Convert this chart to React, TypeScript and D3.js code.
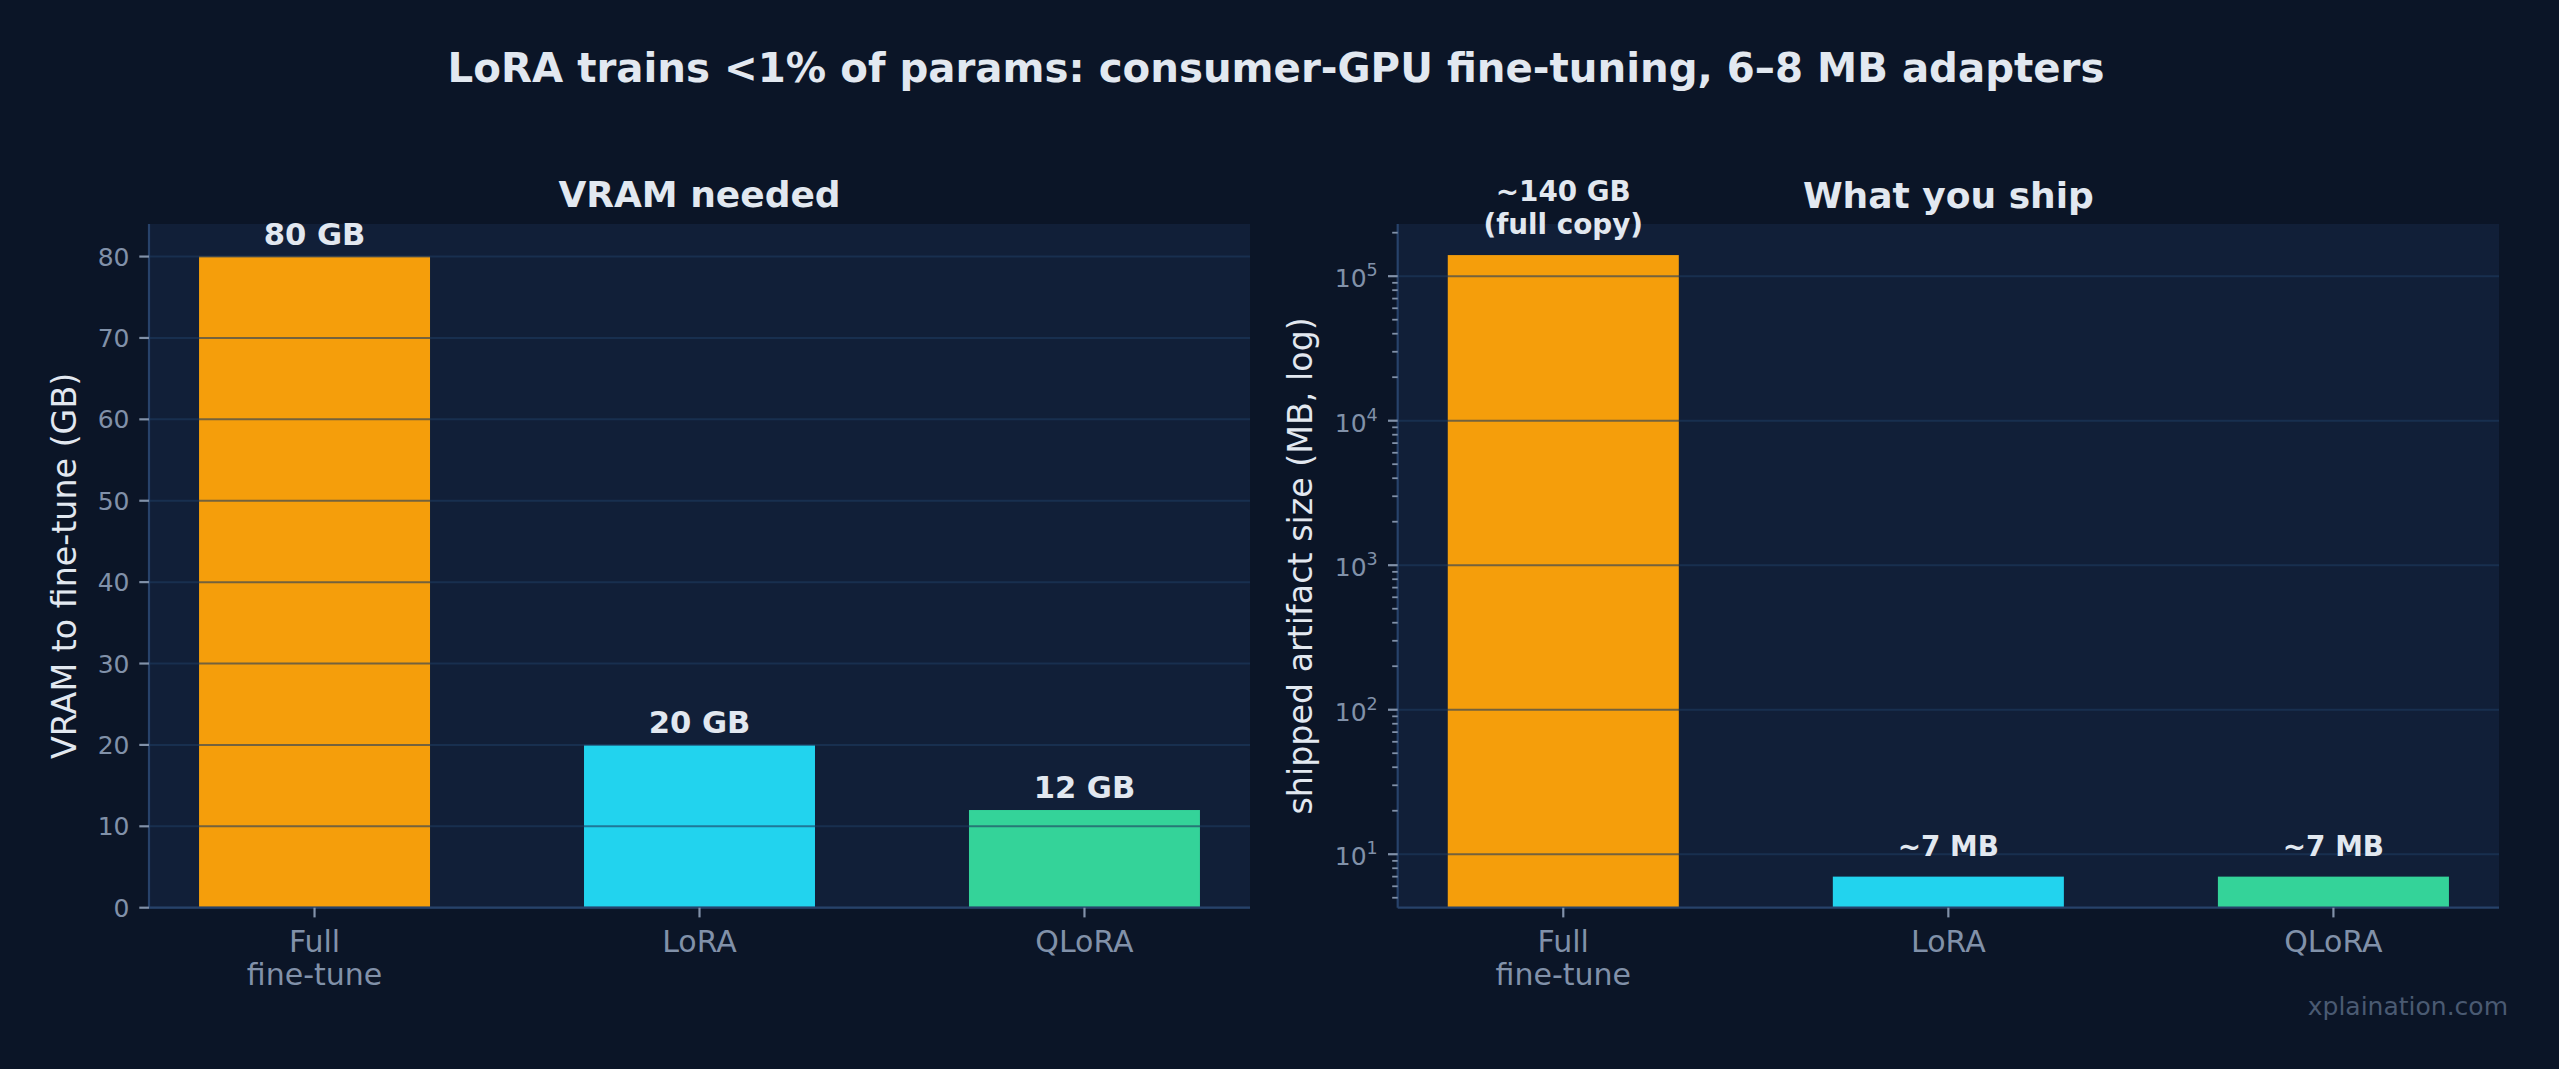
import React from 'react'
import * as d3 from 'd3'

// chart data
const categories = ['Full\nfine-tune', 'LoRA', 'QLoRA']
const vramGB = [80, 20, 12]
const vramLabels = ['80 GB', '20 GB', '12 GB']
const shippedMB = [140000, 7, 7]
const shippedLabels = ['~140 GB\n(full copy)', '~7 MB', '~7 MB']
const barColors = ['#f59e0b', '#22d3ee', '#34d399']
const vramTicks = [0, 10, 20, 30, 40, 50, 60, 70, 80]
const logTicks = [1, 2, 3, 4, 5]

const W = 2559
const H = 1069
const BG = '#0b1527'
const AX_BG = '#111f38'
const SPINE = '#27426a'
const GRID = '#1e3a5f'
const TICK = '#8191a9'
const TEXT = '#e2e8f0'
const FONT = '"DejaVu Sans", sans-serif'

const top = 224
const bottom = 907.7

const left1 = { x0: 149, x1: 1250 }
const right1 = { x0: 1397.7, x1: 2499 }

const band = (p: { x0: number; x1: number }) =>
  d3.scaleBand<string>().domain(categories).range([p.x0, p.x1]).paddingInner(0.4).paddingOuter(0.13)

const XLabels = ({ x }: { x: d3.ScaleBand<string> }) => (
  <g>
    {categories.map(c => {
      const cx = x(c)! + x.bandwidth() / 2
      return (
        <g key={c}>
          <line x1={cx} x2={cx} y1={bottom} y2={bottom + 9.7} stroke={TICK} strokeWidth={2.2} />
          <text x={cx} y={951.7} textAnchor="middle" fontSize={30} fill={TICK}>
            {c.split('\n').map((l, i) => (
              <tspan key={i} x={cx} dy={i === 0 ? 0 : 33}>{l}</tspan>
            ))}
          </text>
        </g>
      )
    })}
  </g>
)

const VramPanel = () => {
  const x = band(left1)
  const y = d3.scaleLinear().domain([0, d3.max(vramGB)! * 1.05]).range([bottom, top])
  return (
    <g>
      <rect x={left1.x0} y={top} width={left1.x1 - left1.x0} height={bottom - top} fill={AX_BG} />
      {vramGB.map((v, i) => (
        <rect key={i} x={x(categories[i])} y={y(v)} width={x.bandwidth()} height={y(0) - y(v)} fill={barColors[i]} />
      ))}
      {vramTicks.map(t => (
        <line key={t} x1={left1.x0} x2={left1.x1} y1={y(t)} y2={y(t)} stroke={GRID} strokeOpacity={0.6} strokeWidth={2} />
      ))}
      <line x1={left1.x0} x2={left1.x0} y1={top} y2={bottom} stroke={SPINE} strokeWidth={2.2} />
      <line x1={left1.x0} x2={left1.x1} y1={bottom} y2={bottom} stroke={SPINE} strokeWidth={2.2} />
      {vramTicks.map(t => (
        <g key={t}>
          <line x1={left1.x0 - 9.7} x2={left1.x0} y1={y(t)} y2={y(t)} stroke={TICK} strokeWidth={2.2} />
          <text x={left1.x0 - 19.5} y={y(t) + 9} textAnchor="end" fontSize={25} fill={TICK}>{t}</text>
        </g>
      ))}
      {vramGB.map((v, i) => (
        <text key={i} x={x(categories[i])! + x.bandwidth() / 2} y={y(v) - 12} textAnchor="middle"
          fontSize={30.6} fontWeight="bold" fill={TEXT}>{vramLabels[i]}</text>
      ))}
      <XLabels x={x} />
      <text transform={`translate(76,${(top + bottom) / 2}) rotate(-90)`} textAnchor="middle" fontSize={33.3} fill={TEXT}>
        VRAM to fine-tune (GB)
      </text>
      <text x={(left1.x0 + left1.x1) / 2} y={207} textAnchor="middle" fontSize={36} fontWeight="bold" fill={TEXT}>
        VRAM needed
      </text>
    </g>
  )
}

const ShipPanel = () => {
  const x = band(right1)
  const lo = Math.log10(d3.min(shippedMB)!)
  const hi = Math.log10(d3.max(shippedMB)!)
  const m = (hi - lo) * 0.05
  const y = d3.scaleLog().domain([10 ** (lo - m), 10 ** (hi + m)]).range([bottom, top])
  const [d0, d1] = y.domain()
  const minor: number[] = []
  for (let k = 0; k <= 5; k++) {
    for (let j = 2; j <= 9; j++) {
      const v = j * 10 ** k
      if (v >= d0 && v <= d1) minor.push(v)
    }
  }
  return (
    <g>
      <rect x={right1.x0} y={top} width={right1.x1 - right1.x0} height={bottom - top} fill={AX_BG} />
      {shippedMB.map((v, i) => (
        <rect key={i} x={x(categories[i])} y={y(v)} width={x.bandwidth()} height={bottom - y(v)} fill={barColors[i]} />
      ))}
      {logTicks.map(k => (
        <line key={k} x1={right1.x0} x2={right1.x1} y1={y(10 ** k)} y2={y(10 ** k)} stroke={GRID} strokeOpacity={0.6} strokeWidth={2} />
      ))}
      <line x1={right1.x0} x2={right1.x0} y1={top} y2={bottom} stroke={SPINE} strokeWidth={2.2} />
      <line x1={right1.x0} x2={right1.x1} y1={bottom} y2={bottom} stroke={SPINE} strokeWidth={2.2} />
      {minor.map(v => (
        <line key={v} x1={right1.x0 - 5.5} x2={right1.x0} y1={y(v)} y2={y(v)} stroke={TICK} strokeWidth={1.8} />
      ))}
      {logTicks.map(k => (
        <g key={k}>
          <line x1={right1.x0 - 9.7} x2={right1.x0} y1={y(10 ** k)} y2={y(10 ** k)} stroke={TICK} strokeWidth={2.2} />
          <text x={right1.x0 - 20} y={y(10 ** k) + 11} textAnchor="end" fontSize={25} fill={TICK}>
            10<tspan dy={-11} fontSize={17.5}>{k}</tspan>
          </text>
        </g>
      ))}
      {shippedMB.map((v, i) => {
        const cx = x(categories[i])! + x.bandwidth() / 2
        const lines = shippedLabels[i].split('\n')
        return (
          <text key={i} x={cx} y={y(v) - 21 - (lines.length - 1) * 33} textAnchor="middle"
            fontSize={27.8} fontWeight="bold" fill={TEXT}>
            {lines.map((l, j) => (
              <tspan key={j} x={cx} dy={j === 0 ? 0 : 33}>{l}</tspan>
            ))}
          </text>
        )
      })}
      <XLabels x={x} />
      <text transform={`translate(1312,${(top + bottom) / 2}) rotate(-90)`} textAnchor="middle" fontSize={33.3} fill={TEXT}>
        shipped artifact size (MB, log)
      </text>
      <text x={(right1.x0 + right1.x1) / 2} y={208} textAnchor="middle" fontSize={36} fontWeight="bold" fill={TEXT}>
        What you ship
      </text>
    </g>
  )
}

export default function App() {
  return (
    <svg width={W} height={H} style={{ position: 'absolute', left: 0, top: 0, display: 'block' }} fontFamily={FONT}>
      <rect width={W} height={H} fill={BG} />
      <text x={1276} y={81.7} textAnchor="middle" fontSize={40.3} fontWeight="bold" fill={TEXT}>
        LoRA trains &lt;1% of params: consumer-GPU fine-tuning, 6–8 MB adapters
      </text>
      <VramPanel />
      <ShipPanel />
      <text x={2508} y={1015} textAnchor="end" fontSize={25} fill="#4a5a72">xplaination.com</text>
    </svg>
  )
}
